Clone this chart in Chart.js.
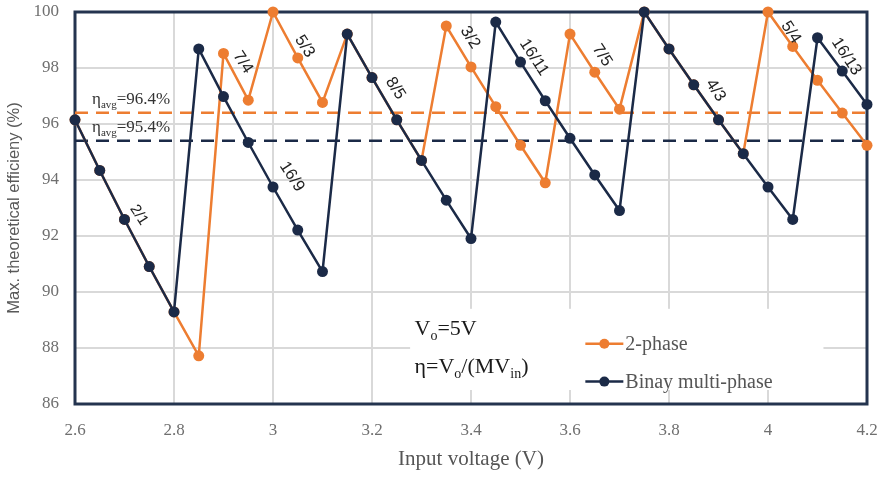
<!DOCTYPE html>
<html>
<head>
<meta charset="utf-8">
<script src="https://cdn.jsdelivr.net/npm/chart.js@4.4.1/dist/chart.umd.min.js"></script>
<style>
  html, body { margin: 0; padding: 0; background: #fff; }
  #wrap { width: 884px; height: 477px; }
</style>
</head>
<body>
<div id="wrap"><canvas id="eff-chart" width="884" height="477"></canvas></div>
<script>
// 데이터
const voltage = [2.6, 2.65, 2.7, 2.75, 2.8, 2.85, 2.9, 2.95, 3.0, 3.05, 3.1, 3.15, 3.2, 3.25, 3.3, 3.35, 3.4,
                 3.45, 3.5, 3.55, 3.6, 3.65, 3.7, 3.75, 3.8, 3.85, 3.9, 3.95, 4.0, 4.05, 4.1, 4.15, 4.2];
const twoPhase = [96.15, 94.34, 92.59, 90.91, 89.29, 87.72, 98.52, 96.85, 100.0, 98.36, 96.77, 99.21, 97.66,
                  96.15, 94.70, 99.50, 98.04, 96.62, 95.24, 93.90, 99.21, 97.85, 96.53, 100.0, 98.68, 97.40,
                  96.15, 94.94, 100.0, 98.77, 97.56, 96.39, 95.24];
const binary = [96.15, 94.34, 92.59, 90.91, 89.29, 98.68, 96.98, 95.34, 93.75, 92.21, 90.73, 99.21, 97.66,
                96.15, 94.70, 93.28, 91.91, 99.64, 98.21, 96.83, 95.49, 94.18, 92.91, 100.0, 98.68, 97.40,
                96.15, 94.94, 93.75, 92.59, 99.08, 97.89, 96.70];
const avgTwoPhase = 96.4;
const avgBinary = 95.4;
const xTicks = [2.6, 2.8, 3.0, 3.2, 3.4, 3.6, 3.8, 4.0, 4.2];
const yTicks = [86, 88, 90, 92, 94, 96, 98, 100];
const seriesNames = ['2-phase', 'Binay multi-phase'];

// 변환비 라벨 (x, y 데이터 좌표)
const ratioText = ['2/1', '7/4', '5/3', '16/9', '8/5', '3/2', '16/11', '7/5', '4/3', '5/4', '16/13'];
const ratioX = [2.729, 2.939, 3.064, 3.038, 3.247, 3.398, 3.527, 3.665, 3.894, 4.046, 4.158];
const ratioY = [92.75, 98.2, 98.77, 94.12, 97.27, 99.09, 98.38, 98.45, 97.2, 99.27, 98.41];

const ORANGE = '#ed7d31';
const NAVY = '#1b2a47';
const FRAME = '#24344f';
const GRAY = '#6f6f6f';
const SERIF = '"Liberation Serif", "DejaVu Serif", serif';
const SANS = '"Liberation Sans", Arial, sans-serif';

function toXY(ys) {
    return voltage.map((v, i) => ({ x: v, y: ys[i] }));
}

// 아래첨자가 있는 텍스트
function drawRich(ctx, parts, x, y) {
    ctx.textBaseline = 'alphabetic';
    ctx.textAlign = 'left';
    parts.forEach(p => {
        ctx.font = p.size + 'px ' + SERIF;
        ctx.fillText(p.t, x, y + (p.dy || 0));
        x += ctx.measureText(p.t).width;
    });
}

// 축 라벨 여백 제거 (차트 영역 고정)
function noPad(s) {
    s.paddingTop = 0; s.paddingBottom = 0; s.paddingLeft = 0; s.paddingRight = 0;
}

const decorPlugin = {
    id: 'decor',
    beforeDatasetsDraw(chart) {
        const { ctx, chartArea: a, scales } = chart;
        const xs = scales.x, ys = scales.y;
        ctx.save();
        // 범례/주석 뒤의 흰 배경
        ctx.fillStyle = '#fff';
        const bx0 = xs.getPixelForValue(3.277), bx1 = xs.getPixelForValue(4.112);
        const by0 = ys.getPixelForValue(89.4), by1 = ys.getPixelForValue(86.5);
        ctx.fillRect(bx0, by0, bx1 - bx0, by1 - by0);
        // 외곽 프레임
        ctx.strokeStyle = FRAME;
        ctx.lineWidth = 3;
        ctx.strokeRect(a.left, a.top, a.right - a.left, a.bottom - a.top);
        ctx.restore();
    },
    afterDatasetsDraw(chart) {
        const { ctx, chartArea: a, scales } = chart;
        const xs = scales.x, ys = scales.y;
        ctx.save();

        // 변환비 라벨
        ctx.fillStyle = '#222';
        ctx.textAlign = 'center';
        ctx.textBaseline = 'middle';
        ratioText.forEach((t, i) => {
            ctx.save();
            ctx.font = (i === 0 ? 15 : 16.5) + 'px ' + SANS;
            ctx.translate(xs.getPixelForValue(ratioX[i]), ys.getPixelForValue(ratioY[i]));
            ctx.rotate(57 * Math.PI / 180);
            ctx.fillText(t, 0, 0);
            ctx.restore();
        });

        // 평균 효율 라벨
        ctx.fillStyle = '#333';
        drawRich(ctx, [{ t: 'η', size: 17 }, { t: 'avg', size: 11, dy: 4 }, { t: '=96.4%', size: 17 }],
            a.left + 17, ys.getPixelForValue(avgTwoPhase) - 9);
        drawRich(ctx, [{ t: 'η', size: 17 }, { t: 'avg', size: 11, dy: 4 }, { t: '=95.4%', size: 17 }],
            a.left + 17, ys.getPixelForValue(avgBinary) - 9);

        // 조건 주석
        ctx.fillStyle = '#1a1a1a';
        const ax = xs.getPixelForValue(3.286);
        drawRich(ctx, [{ t: 'V', size: 22 }, { t: 'o', size: 14, dy: 5 }, { t: '=5V', size: 22 }],
            ax, ys.getPixelForValue(88.48));
        drawRich(ctx, [{ t: 'η=V', size: 22 }, { t: 'o', size: 14, dy: 5 }, { t: '/(MV', size: 22 },
            { t: 'in', size: 14, dy: 5 }, { t: ')', size: 22 }],
            ax, ys.getPixelForValue(87.1));

        // 범례
        const colors = [ORANGE, NAVY];
        const lx = xs.getPixelForValue(3.631);
        [88.15, 86.8].forEach((yv, i) => {
            const py = ys.getPixelForValue(yv);
            ctx.strokeStyle = colors[i];
            ctx.lineWidth = 2.5;
            ctx.beginPath();
            ctx.moveTo(lx, py);
            ctx.lineTo(lx + 38, py);
            ctx.stroke();
            ctx.fillStyle = colors[i];
            ctx.beginPath();
            ctx.arc(lx + 19, py, 5, 0, Math.PI * 2);
            ctx.fill();
            ctx.fillStyle = '#555';
            ctx.font = '20px ' + SERIF;
            ctx.textAlign = 'left';
            ctx.textBaseline = 'middle';
            ctx.fillText(seriesNames[i], lx + 40, py + 1);
        });

        // 축 제목
        ctx.fillStyle = '#555';
        ctx.font = '21px ' + SERIF;
        ctx.textAlign = 'center';
        ctx.textBaseline = 'middle';
        ctx.fillText('Input voltage (V)', (a.left + a.right) / 2, 459);

        ctx.save();
        ctx.translate(14, (a.top + a.bottom) / 2);
        ctx.rotate(-Math.PI / 2);
        ctx.font = '16.5px ' + SANS;
        ctx.fillStyle = '#595959';
        ctx.fillText('Max. theoretical efficieny (%)', 0, 0);
        ctx.restore();

        ctx.restore();
    }
};

const ctx = document.getElementById('eff-chart').getContext('2d');
new Chart(ctx, {
    type: 'line',
    data: {
        datasets: [
            {
                label: seriesNames[0],
                data: toXY(twoPhase),
                borderColor: ORANGE, backgroundColor: ORANGE,
                borderWidth: 2.5, pointRadius: 5.5, pointBorderWidth: 0, clip: false,
                order: 2
            },
            {
                label: seriesNames[1],
                data: toXY(binary),
                borderColor: NAVY, backgroundColor: NAVY,
                borderWidth: 2.5, pointRadius: 5.5, pointBorderWidth: 0, clip: false,
                order: 1
            },
            {
                data: [{ x: voltage[0], y: avgTwoPhase }, { x: voltage[voltage.length - 1], y: avgTwoPhase }],
                borderColor: ORANGE, borderWidth: 2.5, borderDash: [13, 8], pointRadius: 0,
                order: 4
            },
            {
                data: [{ x: voltage[0], y: avgBinary }, { x: voltage[voltage.length - 1], y: avgBinary }],
                borderColor: NAVY, borderWidth: 2.5, borderDash: [13, 8], pointRadius: 0,
                order: 3
            }
        ]
    },
    options: {
        responsive: false,
        animation: false,
        layout: { padding: { left: 0, right: 17, top: 12, bottom: 0 } },
        plugins: { legend: { display: false }, tooltip: { enabled: false } },
        scales: {
            x: {
                type: 'linear', min: 2.6, max: 4.2,
                afterBuildTicks: s => { s.ticks = xTicks.map(v => ({ value: v })); },
                afterFit: s => { s.height = 73; noPad(s); },
                grid: { color: '#d9d9d9', lineWidth: 2, drawTicks: false },
                border: { display: false },
                ticks: {
                    padding: 16, color: GRAY, font: { family: SERIF, size: 17 },
                    callback: v => String(Math.round(v * 10) / 10)
                }
            },
            y: {
                min: 86, max: 100,
                afterBuildTicks: s => { s.ticks = yTicks.map(v => ({ value: v })); },
                afterFit: s => { s.width = 75; noPad(s); },
                grid: { color: '#d9d9d9', lineWidth: 2, drawTicks: false },
                border: { display: false },
                ticks: { padding: 16, color: GRAY, font: { family: SERIF, size: 17 } }
            }
        }
    },
    plugins: [decorPlugin]
});
</script>
</body>
</html>
